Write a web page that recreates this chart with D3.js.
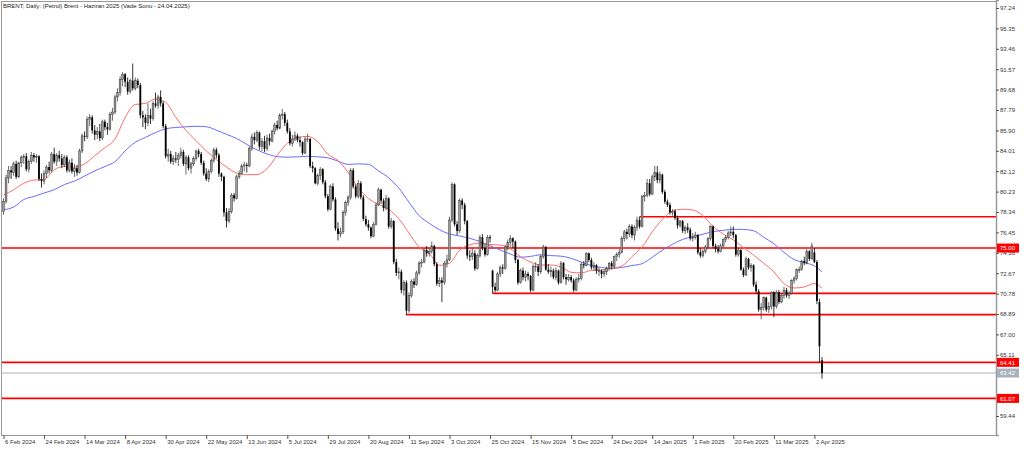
<!DOCTYPE html>
<html><head><meta charset="utf-8">
<script src="https://cdn.jsdelivr.net/npm/d3@7"></script>
<style>body{margin:0;background:#fff;overflow:hidden}svg{display:block}text{font-family:"Liberation Sans",Arial,sans-serif}</style>
</head><body><svg id="c" width="1024" height="449"></svg>
<script>
const title = "BRENT, Daily:  (Petrol) Brent - Haziran 2025 (Vade Sonu - 24.04.2025)";
const dateLabels = ["6 Feb 2024","24 Feb 2024","14 Mar 2024","8 Apr 2024","30 Apr 2024","22 May 2024","13 Jun 2024","5 Jul 2024","29 Jul 2024","20 Aug 2024","11 Sep 2024","3 Oct 2024","25 Oct 2024","15 Nov 2024","5 Dec 2024","24 Dec 2024","14 Jan 2025","1 Feb 2025","20 Feb 2025","11 Mar 2025","2 Apr 2025"];
const priceTicks = [97.24,95.35,93.46,91.57,89.68,87.79,85.90,84.01,82.12,80.23,78.34,76.45,74.56,72.67,70.78,68.89,67.00,65.11,59.44];
// [open, high, low, close] per daily bar
const ohlc = [
[78.4,79.6,78.1,79.3],[79.3,81.8,79.1,81.5],[81.5,82.6,81.0,82.2],[82.2,82.6,81.4,82.0],[82.0,83.0,81.7,82.8],[82.8,83.1,81.4,81.6],[81.6,83.0,81.5,82.9],[82.9,83.6,82.5,83.4],
[83.4,83.7,82.8,83.5],[83.5,83.8,82.1,82.3],[82.3,83.2,82.0,83.0],[83.0,83.9,82.8,83.6],[83.6,83.8,83.0,83.4],[83.4,83.7,82.9,83.5],[83.5,83.6,81.2,81.4],[81.4,81.9,80.6,81.2],
[81.2,82.2,80.9,81.9],[81.9,82.7,81.5,82.5],[82.5,83.0,81.9,82.2],[82.2,83.9,82.0,83.7],[83.7,84.3,82.8,83.0],[83.0,83.8,82.6,83.6],[83.6,84.0,83.0,83.3],[83.3,83.7,82.4,82.7],
[82.7,83.6,82.5,83.4],[83.4,83.6,82.0,82.2],[82.2,83.2,82.0,82.9],[82.9,83.3,81.9,82.1],[82.1,82.8,81.6,82.4],[82.4,82.7,81.7,82.0],[82.0,84.2,81.9,84.0],[84.0,85.6,83.8,85.4],
[85.4,85.8,84.9,85.3],[85.3,87.2,85.1,86.9],[86.9,87.4,86.3,87.1],[87.1,87.3,85.6,85.9],[85.9,86.4,85.0,85.5],[85.5,86.2,85.1,85.8],[85.8,86.5,84.9,85.2],[85.2,86.9,85.0,86.7],
[86.7,86.9,85.9,86.2],[86.2,86.6,85.5,86.0],[86.0,87.6,85.9,87.4],[87.4,88.0,86.8,87.6],[87.6,89.2,87.4,89.0],[89.0,89.8,88.6,89.4],[89.4,90.9,89.1,90.6],[90.6,91.3,90.0,91.1],
[91.1,91.2,89.9,90.4],[90.4,90.8,89.2,89.5],[89.5,90.7,89.3,90.5],[90.5,92.1,89.6,89.8],[89.8,90.8,89.6,90.5],[90.5,90.7,89.8,90.1],[90.1,90.3,87.0,87.3],[87.3,87.7,86.2,87.1],
[87.1,87.4,86.0,86.6],[86.6,88.4,86.3,87.3],[87.3,87.9,86.5,87.0],[87.0,88.6,86.8,88.4],[88.4,89.4,88.0,88.2],[88.2,89.2,87.9,89.0],[89.0,89.6,88.1,88.4],[88.4,88.6,86.1,86.3],
[86.3,86.5,83.3,83.5],[83.5,84.2,83.0,83.7],[83.7,84.0,82.8,83.0],[83.0,83.6,82.7,83.3],[83.3,83.9,82.9,83.2],[83.2,83.8,82.6,83.6],[83.6,84.3,83.3,83.9],[83.9,84.1,82.6,82.8],
[82.8,83.6,81.8,83.4],[83.4,83.6,82.2,82.4],[82.4,83.0,81.9,82.8],[82.8,83.5,82.6,83.3],[83.3,84.1,83.1,84.0],[84.0,84.2,83.4,83.7],[83.7,83.9,82.7,82.9],[82.9,83.1,81.7,81.9],
[81.9,82.4,81.2,81.4],[81.4,82.3,81.1,82.1],[82.1,83.3,81.9,83.1],[83.1,84.3,82.9,84.1],[84.1,84.3,83.3,83.6],[83.6,83.8,81.6,81.9],[81.9,82.0,81.2,81.6],[81.6,81.7,77.9,78.3],
[78.3,78.7,76.9,77.5],[77.5,78.7,77.3,78.4],[78.4,80.1,78.2,79.9],[79.9,80.1,79.3,79.6],[79.6,81.8,79.5,81.6],[81.6,82.2,81.4,81.9],[81.9,82.8,81.8,82.6],[82.6,83.0,82.1,82.7],
[82.7,82.9,82.0,82.6],[82.6,84.4,82.5,84.2],[84.2,85.6,84.0,85.3],[85.3,85.7,84.6,85.0],[85.0,85.9,84.8,85.7],[85.7,85.8,84.1,84.4],[84.4,85.2,84.0,84.9],[84.9,85.4,83.9,84.2],
[84.2,85.5,84.0,85.2],[85.2,85.6,84.5,84.9],[84.9,86.0,84.8,85.8],[85.8,86.6,85.5,86.4],[86.4,86.8,85.9,86.1],[86.1,87.5,86.0,87.3],[87.3,87.9,86.9,87.4],[87.4,87.6,86.3,86.6],
[86.6,86.9,85.6,85.8],[85.8,86.1,84.5,84.7],[84.7,85.5,84.4,85.1],[85.1,85.8,84.9,85.4],[85.4,85.6,84.8,85.0],[85.0,85.3,84.4,84.8],[84.8,84.9,83.6,83.8],[83.8,85.3,83.7,85.1],
[85.1,85.6,84.8,85.1],[85.1,85.2,82.4,82.6],[82.6,83.0,82.0,82.4],[82.4,82.5,80.9,81.0],[81.0,81.9,80.8,81.7],[81.7,82.5,81.3,82.3],[82.3,82.4,80.9,81.1],[81.1,81.3,79.6,79.8],
[79.8,80.0,78.4,78.6],[78.6,80.9,78.5,80.7],[80.7,81.0,79.3,79.5],[79.5,79.7,76.6,76.8],[76.8,77.4,75.7,76.3],[76.3,76.9,76.0,76.5],[76.5,78.5,76.3,78.3],[78.3,79.4,78.0,79.2],
[79.2,79.9,78.9,79.7],[79.7,82.4,79.5,82.2],[82.2,82.4,80.5,80.7],[80.7,80.9,79.6,79.8],[79.8,81.3,79.6,81.0],[81.0,81.2,79.5,79.7],[79.7,79.9,77.5,77.7],[77.7,78.0,77.0,77.2],
[77.2,77.6,76.6,76.9],[76.9,77.0,75.9,76.1],[76.1,77.4,76.0,77.2],[77.2,79.2,77.1,79.0],[79.0,80.6,78.9,80.4],[80.4,80.5,79.1,79.4],[79.4,79.6,78.4,78.7],[78.7,79.9,78.5,79.6],
[79.6,79.7,76.8,77.0],[77.0,77.8,76.8,77.5],[77.5,77.6,73.5,73.7],[73.7,74.0,72.4,72.7],[72.7,73.2,72.1,72.8],[72.8,73.0,70.8,71.1],[71.1,72.0,70.6,71.8],[71.8,72.0,68.8,69.2],
[69.2,70.9,69.0,70.6],[70.6,72.1,70.4,71.9],[71.9,72.2,71.3,71.6],[71.6,72.9,71.5,72.7],[72.7,73.8,72.5,73.6],[73.6,74.0,73.2,73.7],[73.7,75.0,73.6,74.8],[74.8,75.2,74.2,74.5],
[74.5,75.0,74.2,74.7],[74.7,75.6,74.5,75.2],[75.2,75.3,73.3,73.5],[73.5,73.7,71.5,71.7],[71.7,72.3,71.4,72.0],[72.0,72.3,70.0,71.8],[71.8,73.8,71.6,73.6],[73.6,74.4,73.2,73.9],
[73.9,77.9,73.8,77.6],[77.6,81.1,77.4,80.9],[80.9,81.0,77.0,77.2],[77.2,77.5,76.2,76.6],[76.6,79.6,76.4,79.4],[79.4,79.6,78.6,79.0],[79.0,79.2,77.2,77.5],[77.5,77.6,74.0,74.3],
[74.3,74.8,73.8,74.2],[74.2,75.0,73.9,74.5],[74.5,74.8,72.9,73.1],[73.1,74.5,73.0,74.3],[74.3,76.2,74.1,76.0],[76.0,76.3,74.8,75.0],[75.0,75.4,74.2,74.4],[74.4,76.2,74.3,76.0],
[76.0,76.2,75.5,75.9],[72.9,73.0,70.8,71.4],[71.4,71.8,70.9,71.1],[71.1,72.8,71.0,72.6],[72.6,73.4,72.3,73.2],[73.2,73.5,72.6,73.1],[73.1,75.3,73.0,75.1],[75.1,75.8,74.8,75.5],
[75.5,76.2,75.1,75.9],[75.9,76.0,75.0,75.6],[75.6,75.7,73.6,73.9],[73.9,74.0,71.6,71.8],[71.8,73.1,71.7,72.9],[72.9,73.2,72.0,72.3],[72.3,72.9,71.9,72.6],[72.6,72.8,72.0,72.4],
[72.4,72.5,70.9,71.1],[71.1,73.5,71.0,73.3],[73.3,73.7,72.8,73.3],[73.3,73.5,72.4,72.8],[72.8,74.4,72.6,74.2],[74.2,75.3,74.0,75.1],[75.1,75.2,72.9,73.0],[73.0,73.5,72.6,72.8],
[72.8,73.3,72.3,72.9],[72.9,73.1,72.1,72.3],[72.3,73.2,72.0,72.9],[72.9,73.0,71.6,71.8],[71.8,73.8,71.7,73.6],[73.6,73.7,72.1,72.3],[72.3,72.6,71.6,72.1],[72.1,72.6,71.9,72.3],
[72.3,72.5,71.8,72.0],[72.0,72.2,70.9,71.1],[71.1,72.3,71.0,72.1],[72.1,72.6,71.8,72.2],[72.2,73.7,72.0,73.5],[73.5,73.8,73.1,73.4],[73.4,74.6,73.3,74.5],[74.5,74.6,73.7,73.9],
[73.9,74.1,73.0,73.2],[73.2,73.7,72.9,73.4],[73.4,73.5,72.6,72.9],[72.9,73.2,72.4,72.9],[72.9,73.0,72.2,72.6],[72.6,73.0,72.3,72.8],[72.8,73.3,72.5,73.1],[73.1,73.7,72.9,73.6],
[73.6,73.8,73.0,73.3],[73.3,74.3,73.1,74.2],[74.2,74.6,73.8,74.4],[74.4,74.9,74.1,74.6],[74.6,76.1,74.5,75.9],[75.9,76.7,75.6,76.5],[76.5,76.8,75.8,76.3],[76.3,77.2,76.0,77.0],
[77.0,77.2,75.9,76.2],[76.2,77.1,75.7,76.9],[76.9,77.9,76.6,77.6],[77.6,77.9,76.8,77.0],[77.0,79.9,76.9,79.8],[79.8,80.2,79.3,79.9],[79.9,81.4,79.7,81.0],[81.0,81.4,79.8,80.0],
[80.0,81.8,79.9,81.6],[81.6,82.6,81.2,82.0],[82.0,82.6,81.0,81.3],[81.3,82.1,81.0,81.8],[81.8,81.9,80.0,80.2],[80.2,80.4,79.1,79.3],[79.3,79.5,78.8,79.0],[79.0,79.2,78.1,78.3],
[78.3,78.6,78.0,78.4],[78.4,78.6,77.6,77.8],[77.8,78.0,76.8,77.1],[77.1,77.6,76.9,77.5],[77.5,77.6,76.4,76.6],[76.6,77.1,76.3,76.9],[76.9,77.3,76.4,76.7],[76.7,76.9,75.7,75.9],
[75.9,76.4,75.6,76.0],[76.0,76.5,75.8,76.2],[76.2,76.3,74.4,74.6],[74.6,75.0,74.1,74.3],[74.3,74.9,74.1,74.7],[74.7,75.3,74.5,75.1],[75.1,76.0,74.9,75.9],[75.9,77.1,75.7,77.0],
[77.0,77.1,75.0,75.2],[75.2,75.4,74.6,74.9],[74.9,75.3,74.5,74.7],[74.7,75.4,74.6,75.2],[75.2,75.9,75.0,75.8],[75.8,76.2,75.5,76.0],[76.0,76.6,75.8,76.4],[76.4,77.0,76.1,76.5],
[76.5,77.0,75.9,76.2],[76.2,76.3,74.2,74.4],[74.4,75.0,74.2,74.8],[74.8,74.9,72.9,73.0],[73.0,73.2,72.3,72.5],[72.5,74.2,72.4,74.0],[74.0,74.1,73.0,73.2],[73.2,73.6,72.8,73.4],
[73.4,73.5,71.4,71.6],[71.6,71.9,70.8,71.0],[71.0,71.2,69.1,69.3],[69.3,69.9,68.4,69.5],[69.5,70.5,69.2,70.4],[70.4,70.5,69.1,69.3],[69.3,70.0,69.0,69.6],[69.6,71.0,69.3,70.9],
[70.9,71.0,68.6,69.6],[69.6,71.1,69.4,70.9],[70.9,71.1,69.8,70.0],[70.0,70.8,69.9,70.6],[70.6,71.4,70.3,71.1],[71.1,71.3,70.4,70.6],[70.6,71.0,70.3,70.8],[70.8,72.1,70.7,72.0],
[72.0,72.4,71.7,72.2],[72.2,73.1,72.0,73.0],[73.0,73.3,72.7,73.0],[73.0,73.9,72.9,73.8],[73.8,74.2,73.4,73.6],[73.6,74.9,73.5,74.7],[74.7,74.8,73.8,74.0],[74.0,75.5,73.9,75.2],
[74.6,75.0,73.6,73.7],[73.7,73.9,69.8,70.1],[70.0,70.3,64.4,65.9],[64.6,64.9,62.9,63.42]
];
// moving averages read every 4 bars (last at bar 323)
const maBars = d3.range(0, 321, 4).concat([323]);
const redMA = [79.9,80.4,81.0,81.3,81.35,82.25,82.55,82.5,82.8,83.55,84.3,85.1,87.1,88.3,88.4,88.8,88.5,87.1,85.9,84.95,84.0,83.2,82.5,81.95,81.8,81.8,82.35,83.6,84.7,85.25,85.35,84.85,83.7,83.1,82.0,80.6,79.6,79.05,78.6,77.7,76.4,75.1,74.5,73.4,73.6,74.8,75.3,75.44,75.33,75.28,74.95,74.2,73.7,73.43,73.43,73.25,72.75,72.7,72.93,72.97,73.12,73.33,74.2,75.1,76.5,77.65,78.43,78.59,78.53,78.0,77.0,76.3,75.75,75.05,74.35,73.6,72.8,71.7,71.3,71.4,71.72,71.27];
const blueMA = [78.55,78.8,79.5,79.78,80.1,80.4,80.88,81.2,81.67,82.15,82.55,83.0,84.0,84.8,85.25,85.7,86.05,86.17,86.23,86.28,86.24,85.92,85.53,85.15,84.6,84.1,83.72,83.47,83.42,83.45,83.5,83.45,83.36,83.05,82.75,82.8,82.75,82.15,81.5,80.55,79.25,78.0,77.3,76.7,76.3,76.12,75.9,75.6,75.2,74.82,74.45,74.15,74.23,74.37,74.3,74.25,74.05,73.7,73.38,73.2,73.12,73.2,73.38,73.55,74.15,74.8,75.35,75.8,76.05,76.28,76.52,76.64,76.74,76.72,76.6,76.0,75.4,74.6,73.93,73.65,73.35,72.81];
// horizontal levels: price, first bar, labelled on axis
const levelPrices = [77.9, 75.00, 70.8, 68.83, 64.41, 61.07];
const levelStart = [251, null, 193, 159, null, null];
const levelLabel = [false, true, false, false, true, true];
const bidPrice = 63.42;

const svg = d3.select("#c");
const W = 1024, H = 449;
const plotL = 1, plotR = 996, plotT = 1, plotB = 435;
const x = d3.scaleLinear().domain([0, 323]).range([3.5, 822.0]);
const y = d3.scaleLinear().domain([57.68, 97.98]).range([435, 0]);

svg.append("rect").attr("width", W).attr("height", H).attr("fill", "#fff");
svg.append("rect").attr("x", plotL + 0.5).attr("y", plotT + 0.5).attr("width", plotR - plotL).attr("height", plotB - plotT)
  .attr("fill", "none").attr("stroke", "#9a9a9a").attr("stroke-width", 1);

const g = svg.append("g");
levelPrices.forEach((p, k) => {
  const x0 = levelStart[k] === null ? plotL + 1 : x(levelStart[k]);
  g.append("line").attr("x1", x0).attr("x2", plotR).attr("y1", y(p)).attr("y2", y(p))
    .attr("stroke", "#ff0000").attr("stroke-width", 1.6);
});
g.append("line").attr("x1", plotL + 1).attr("x2", plotR).attr("y1", y(bidPrice)).attr("y2", y(bidPrice))
  .attr("stroke", "#a7b2bd").attr("stroke-width", 1);

const line = d3.line().x((d, i) => x(maBars[i])).y(d => y(d)).curve(d3.curveMonotoneX);
g.append("path").datum(blueMA).attr("d", line).attr("fill", "none").attr("stroke", "#6b6bff").attr("stroke-width", 1);
g.append("path").datum(redMA).attr("d", line).attr("fill", "none").attr("stroke", "#ff6b6b").attr("stroke-width", 1);

const cg = g.append("g");
ohlc.forEach((d, i) => {
  const [o, h, l, c] = d;
  const cx = x(i);
  const bull = c >= o;
  cg.append("line").attr("x1", cx).attr("x2", cx).attr("y1", y(h)).attr("y2", y(l))
    .attr("stroke", bull ? "#444" : "#000").attr("stroke-width", 0.8);
  const top = y(Math.max(o, c)), bot = y(Math.min(o, c));
  cg.append("rect").attr("x", cx - 0.9).attr("width", 1.8).attr("y", top).attr("height", Math.max(0.6, bot - top))
    .attr("fill", bull ? "#9c9c9c" : "#000").attr("stroke", bull ? "#3a3a3a" : "none").attr("stroke-width", 0.5);
});

const yAxis = d3.axisRight(y).tickValues(priceTicks).tickSize(3).tickFormat(d3.format(".2f"));
const ya = svg.append("g").attr("transform", `translate(${plotR},0)`).call(yAxis);
ya.select(".domain").attr("stroke", "#9a9a9a").attr("stroke-width", 1.5);
ya.selectAll(".tick line").attr("stroke", "#555");
ya.selectAll(".tick text").attr("x", 4).attr("font-size", 6).attr("fill", "#333");

const xAxis = d3.axisBottom(x).tickValues(d3.range(0, 321, 16)).tickSize(4).tickFormat(i => dateLabels[i / 16]);
const xa = svg.append("g").attr("transform", `translate(0,${plotB})`).call(xAxis);
xa.select(".domain").remove();
xa.selectAll(".tick line").attr("stroke", "#555");
xa.selectAll(".tick text").attr("text-anchor", "start").attr("x", 1).attr("y", 5).attr("font-size", 6).attr("fill", "#333");

function priceBox(p, fill) {
  const gg = svg.append("g").attr("transform", `translate(${plotR + 1},${y(p)})`);
  gg.append("rect").attr("x", 0).attr("y", -4.5).attr("width", 22).attr("height", 9).attr("fill", fill);
  gg.append("text").attr("x", 3).attr("y", 2.2).attr("font-size", 6).attr("fill", "#fff").text(d3.format(".2f")(p));
}
levelPrices.forEach((p, k) => { if (levelLabel[k]) priceBox(p, "#ff0000"); });
priceBox(bidPrice, "#a7b2bd");

svg.append("text").attr("x", 3).attr("y", 7.5).attr("font-size", 6).attr("fill", "#222").text(title);
</script></body></html>
